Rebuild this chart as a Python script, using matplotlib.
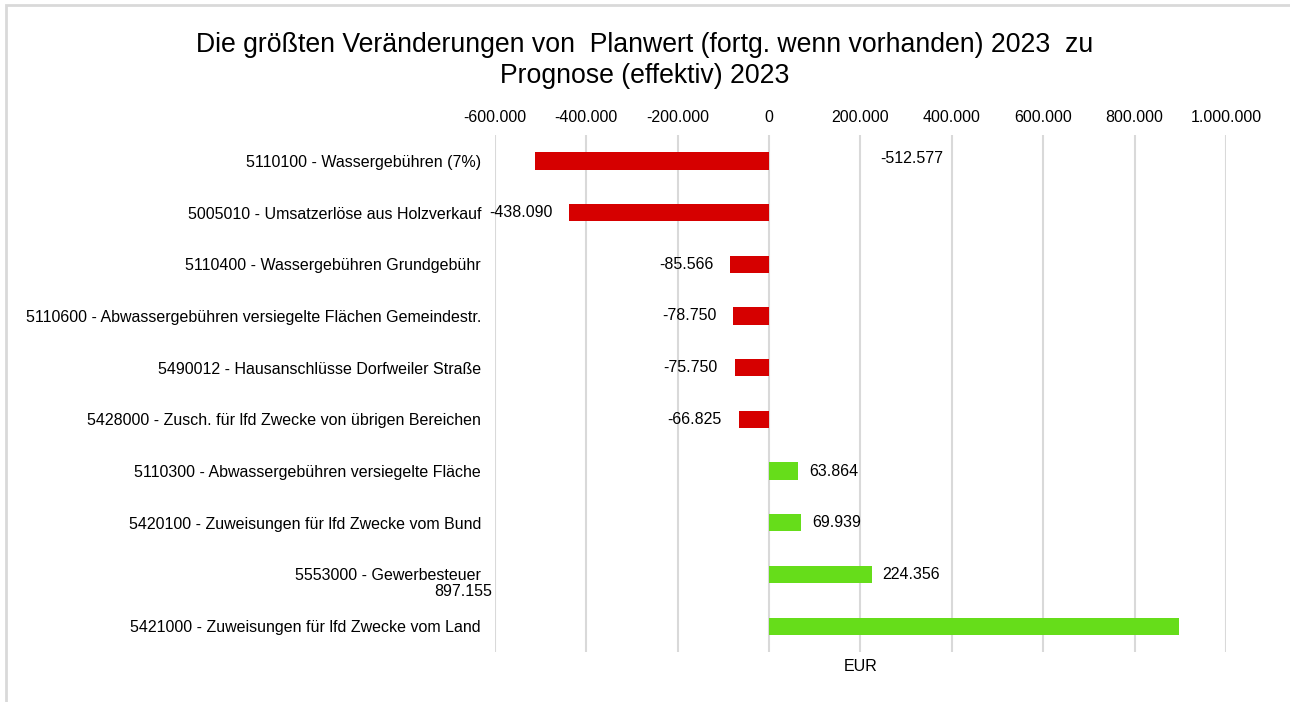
import matplotlib.pyplot as plt
from matplotlib.ticker import FuncFormatter
from matplotlib.patches import Rectangle

plt.rcParams["font.family"] = ["Liberation Sans", "DejaVu Sans"]

# =========================
# DATEN
# =========================
kategorien = [
    "5110100 - Wassergebühren (7%)",
    "5005010 - Umsatzerlöse aus Holzverkauf",
    "5110400 - Wassergebühren Grundgebühr",
    "5110600 - Abwassergebühren versiegelte Flächen Gemeindestr.",
    "5490012 - Hausanschlüsse Dorfweiler Straße",
    "5428000 - Zusch. für lfd Zwecke von übrigen Bereichen",
    "5110300 - Abwassergebühren versiegelte Fläche",
    "5420100 - Zuweisungen für lfd Zwecke vom Bund",
    "5553000 - Gewerbesteuer",
    "5421000 - Zuweisungen für lfd Zwecke vom Land",
]
werte = [-512577, -438090, -85566, -78750, -75750, -66825, 63864, 69939, 224356, 897155]
x_ticks = [-600000, -400000, -200000, 0, 200000, 400000, 600000, 800000, 1000000]

ROT = "#d60000"
GRUEN = "#66dd1a"
FS = 11.5


def de_format(v, pos=None):
    return f"{v:,.0f}".replace(",", ".")


# =========================
# GRAFIK
# =========================
fig = plt.figure(figsize=(12.9, 7.02), dpi=100)
ax = fig.add_axes([0.3837, 0.0712, 0.5667, 0.7365])

ypos = list(range(len(kategorien)))
farben = [ROT if w < 0 else GRUEN for w in werte]
ax.barh(ypos, werte, height=0.335, color=farben, zorder=2)

ax.set_xlim(-600000, 1000000)
ax.set_ylim(9.5, -0.5)
ax.set_xticks(x_ticks)
ax.xaxis.set_major_formatter(FuncFormatter(de_format))
ax.xaxis.tick_top()
ax.tick_params(axis="x", length=0, pad=7, labelsize=FS)
ax.set_yticks(ypos)
ax.set_yticklabels(kategorien, fontsize=FS)
ax.tick_params(axis="y", length=0, pad=10)
ax.grid(axis="x", color="#d9d9d9", linewidth=1.5, zorder=0)
for s in ax.spines.values():
    s.set_visible(False)

ax.set_xlabel("EUR", fontsize=FS, labelpad=5)

# Datenbeschriftungen (Excel-Positionen)
for i, w in enumerate(werte):
    txt = de_format(w)
    if i == 0:
        ax.text(243000, i - 0.04, txt, ha="left", va="center", fontsize=FS)
    elif i == 9:
        ax.text(-606000, 8.33, txt, ha="right", va="center", fontsize=FS)
    elif w < 0:
        ax.annotate(txt, (w, i), xytext=(-12, 0), textcoords="offset points",
                    ha="right", va="center", fontsize=FS)
    else:
        ax.annotate(txt, (w, i), xytext=(8, 0), textcoords="offset points",
                    ha="left", va="center", fontsize=FS)

fig.text(0.5, 0.914, "Die größten Veränderungen von  Planwert (fortg. wenn vorhanden) 2023  zu\nPrognose (effektiv) 2023",
         ha="center", va="center", fontsize=19.2, linespacing=1.22)

# Rahmen
fig.patches.append(Rectangle((6 / 1290, -0.1), 1.2, 1.1 - 5 / 702, transform=fig.transFigure,
                             fill=False, edgecolor="#d9d9d9", linewidth=2))

fig.savefig("out.png", dpi=100)
